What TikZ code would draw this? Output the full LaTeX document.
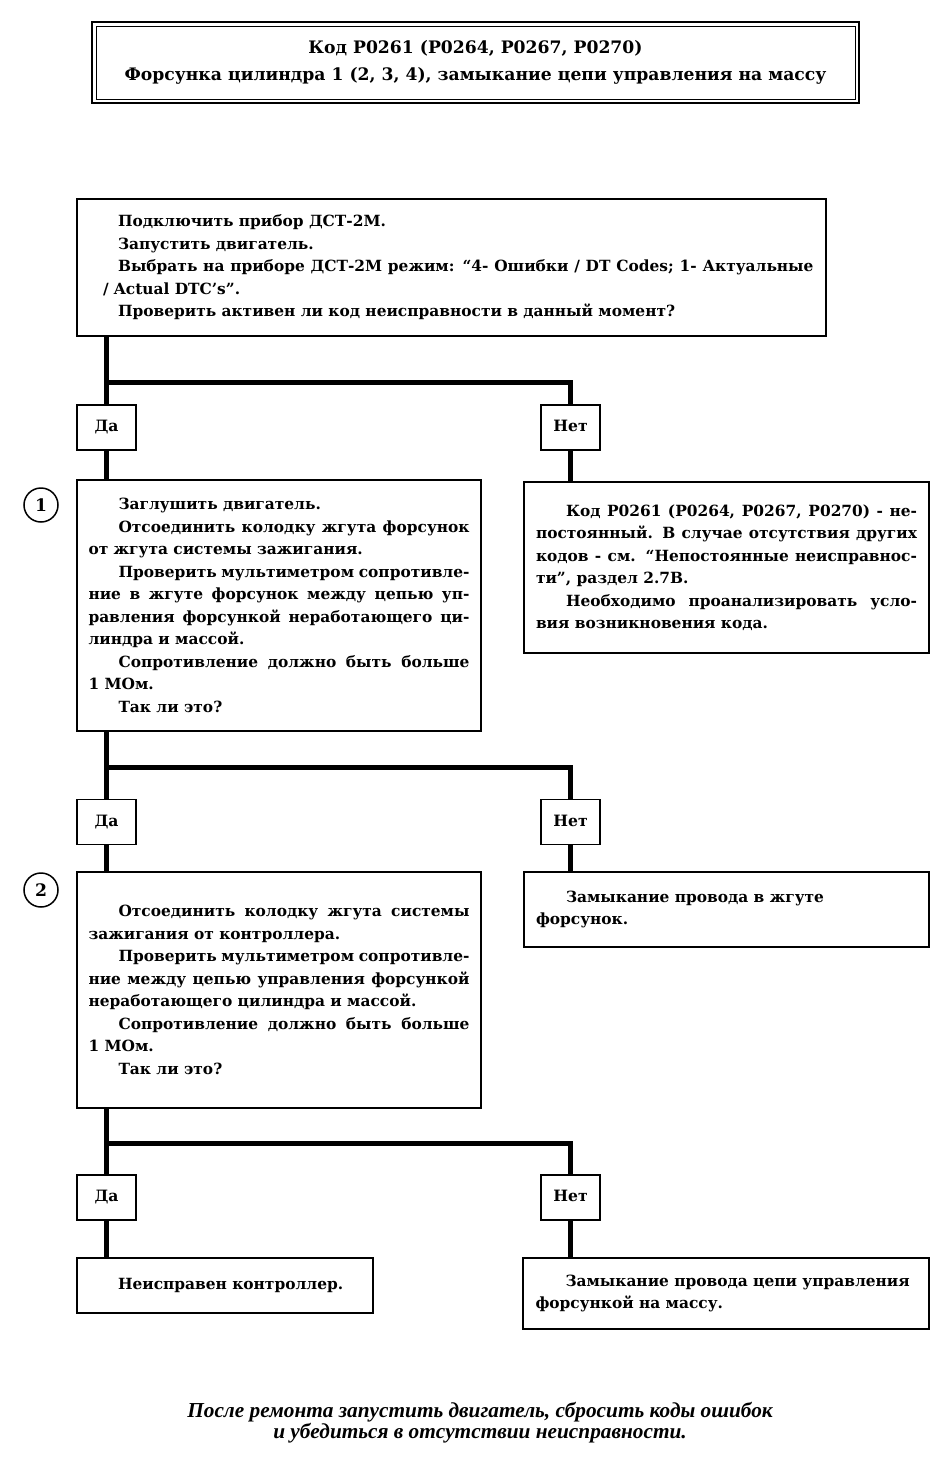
\documentclass[tikz,border=0pt]{standalone}
\usepackage{fontspec}
\setmainfont{DejaVu Serif}
\newfontfamily\notefont{Liberation Serif}
\usepackage{tikz}
\hyphenpenalty=10000
\exhyphenpenalty=10000
\tikzset{%
    box/.style={draw, line width=0.75pt, align=justify, inner xsep=5pt, inner ysep=0pt,
        font=\bfseries\fontsize{7.7}{11.25}\selectfont},
    answer/.style={draw, line width=0.75pt, minimum width=29.5pt, minimum height=22.5pt,
        inner sep=0pt, text height=5.6pt, text depth=1.4pt, font=\bfseries\fontsize{7.8}{10}\selectfont},
    number/.style={circle, draw, line width=0.75pt, minimum size=17pt, inner sep=0pt,
        font=\bfseries\fontsize{8.6}{10}\selectfont},
    link/.style={line width=2.5pt}
}
\newcommand{\ind}{\hspace*{15pt}}
\newcommand{\indA}{\hspace*{7.5pt}}

\begin{document}
\begin{tikzpicture}[x=0.5pt,y=-0.5pt]
	\useasboundingbox (0,0) rectangle (949,1463);

	% title
	\node[draw, line width=1pt, minimum width=383.5pt, minimum height=40.5pt, align=center,
		font=\bfseries\fontsize{8.6}{13.5}\selectfont] (title) at (475.5,62.5)
		{Код P0261 (P0264, P0267, P0270)\\Форсунка цилиндра 1 (2, 3, 4), замыкание цепи управления на массу};
	\draw[line width=0.5pt] ([shift={(2.5pt,-2.5pt)}]title.north west) rectangle ([shift={(-2.5pt,2.5pt)}]title.south east);

	% start
	\node[box, text width=362pt, minimum width=374.5pt, minimum height=68.5pt] (check) at (451.5,267.5)
		{\leftskip=6.75pt\relax
		\indA Подключить прибор ДСТ-2М.\par
		\indA Запустить двигатель.\par
		\indA Выбрать на приборе ДСТ-2М режим: “4- Ошибки / DT Codes; 1- Актуальные\linebreak
		/ Actual DTC's”.\par
		\indA Проверить активен ли код неисправности в данный момент?\par};

	\node[answer] (yes1) at (106.5,427.5) {Да};
	\node[answer] (no1) at (570.5,427.5) {Нет};
	\coordinate (fork1) at (106.5,382);

	% step 1
	\node[number] (num1) at (41,505) {1};
	\node[box, text width=190.5pt, minimum width=202pt, minimum height=125.5pt] (step1) at (279,605.5)
		{\ind Заглушить двигатель.\par
		\ind Отсоединить колодку жгута форсунок\linebreak
		от жгута системы зажигания.\par
		\ind Проверить мультиметром сопротивле-\linebreak
		ние в жгуте форсунок между цепью уп-\linebreak
		равления форсункой неработающего ци-\linebreak
		линдра и массой.\par
		\ind Сопротивление должно быть больше\linebreak
		1 МОм.\par
		\ind Так ли это?};
	\node[box, text width=190.5pt, minimum width=202.5pt, minimum height=85.5pt] (note1) at (726.5,567.5)
		{\ind Код P0261 (P0264, P0267, P0270) - не-\linebreak
		постоянный. В случае отсутствия других\linebreak
		кодов - см. “Непостоянные неисправнос-\linebreak
		ти”, раздел 2.7В.\par
		\ind Необходимо проанализировать усло-\linebreak
		вия возникновения кода.};

	\node[answer] (yes2) at (106.5,822) {Да};
	\node[answer] (no2) at (570.5,822) {Нет};
	\coordinate (fork2) at (106.5,767);

	% step 2
	\node[number] (num2) at (41,890) {2};
	\node[box, text width=190.5pt, minimum width=202pt, minimum height=118pt] (step2) at (279,990)
		{\ind Отсоединить колодку жгута системы\linebreak
		зажигания от контроллера.\par
		\ind Проверить мультиметром сопротивле-\linebreak
		ние между цепью управления форсункой\linebreak
		неработающего цилиндра и массой.\par
		\ind Сопротивление должно быть больше\linebreak
		1 МОм.\par
		\ind Так ли это?};
	\node[box, text width=190.5pt, minimum width=202.5pt, minimum height=37.5pt] (note2) at (726.5,909.5)
		{\ind Замыкание провода в жгуте\newline
		форсунок.};

	\node[answer] (yes3) at (106.5,1197.5) {Да};
	\node[answer] (no3) at (570.5,1197.5) {Нет};
	\coordinate (fork3) at (106.5,1143);

	% results
	\node[box, text width=137pt, minimum width=148pt, minimum height=27.5pt] (ecu) at (225,1285.5)
		{\ind Неисправен контроллер.};
	\node[box, text width=190.5pt, minimum width=203pt, minimum height=35.5pt] (short) at (726,1293.5)
		{\ind Замыкание провода цепи управления\newline
		форсункой на массу.};

	\draw[link] (yes1 |- check.south) -- (yes1.north);
	\draw[link] (fork1) -| (no1.north);
	\draw[link] (yes1.south) -- (yes1 |- step1.north);
	\draw[link] (no1.south) -- (no1 |- note1.north);

	\draw[link] (yes2 |- step1.south) -- (yes2.north);
	\draw[link] (fork2) -| (no2.north);
	\draw[link] (yes2.south) -- (yes2 |- step2.north);
	\draw[link] (no2.south) -- (no2 |- note2.north);

	\draw[link] (yes3 |- step2.south) -- (yes3.north);
	\draw[link] (fork3) -| (no3.north);
	\draw[link] (yes3.south) -- (yes3 |- ecu.north);
	\draw[link] (no3.south) -- (no3 |- short.north);

	\node[align=center, font=\notefont\bfseries\itshape\fontsize{10.65}{10.5}\selectfont] (after) at (480,1422.5)
		{После ремонта запустить двигатель, сбросить коды ошибок\\и убедиться в отсутствии неисправности.};
\end{tikzpicture}
\end{document}
